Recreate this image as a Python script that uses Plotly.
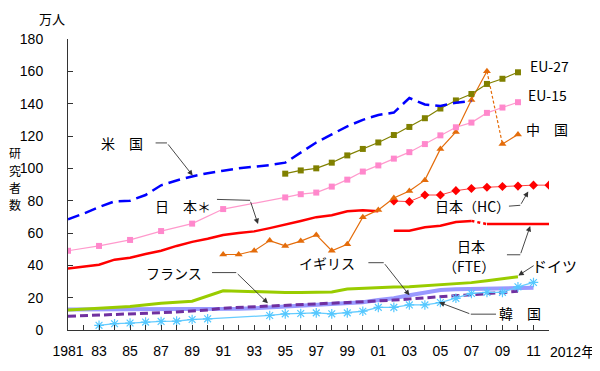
import plotly.graph_objects as go

# ---------------- data (万人) ----------------
us_years = list(range(1981, 2008))
us = [68.5, 72, 76, 79.6, 80, 83.5, 89.5, 92.5, 95, 97, 98.5, 100, 101, 102, 103.5,
      110, 116, 121, 126, 130, 133, 134.5, 143.5, 139.5, 138.6, 140.6, 141.6]

eu27_years = list(range(1995, 2011))
eu27 = [96.7, 98.7, 100, 103.5, 108, 112, 116, 120.6, 125.6, 131, 137, 142, 146, 152.2, 155.4, 159.4]

eu15_years = [1981, 1983, 1985, 1987, 1989, 1991] + list(range(1995, 2011))
eu15 = [49, 52, 55.7, 61.2, 65.8, 74.8, 82, 84, 85, 88.7, 93, 98, 101.8, 106, 110, 115,
        120.4, 125.4, 128.3, 134.3, 137.6, 140.9]

jp_star_years = list(range(1981, 2002))
jp_star = [38, 39.2, 40.4, 43.5, 44.7, 47, 49, 52, 54.5, 56.5, 58.8, 60, 61, 63, 65,
           67.4, 69.8, 71, 73.5, 74, 73.5]

jp_hc_years = list(range(2002, 2013))
jp_hc = [79.8, 79.4, 83.5, 83.5, 86.2, 87.5, 88.3, 88.8, 89, 89.6, 89.6]

jp_fte_years = list(range(2002, 2013))
jp_fte = [61.4, 61.4, 63.5, 64.5, 66.8, 67.5, 65.5, 65.5, 65.6, 65.6, 65.6]

cn_years = list(range(1991, 2011))
cn = [46.7, 46.7, 49, 55.3, 52, 55, 58.8, 49, 53, 69.8, 74.3, 81.7, 86, 92.7, 112,
      122.5, 142.3, 160, 115, 121]

de_years = [1981, 1983, 1985, 1987, 1989] + list(range(1991, 2011))
de = [12.4, 13.3, 14.5, 16.5, 17.8, 24.3, 24, 23.6, 23.3, 23.2, 23.2, 23.3, 23.5, 25.3,
      25.8, 26.5, 26.6, 26.8, 27.4, 28.2, 28.8, 29.3, 30.5, 31.7, 33]

fr_years = list(range(1981, 2011))
fr = [8.5, 8.8, 9.2, 9.6, 10.0, 10.3, 10.7, 11.2, 11.6, 12.3, 13.5, 14.0, 14.3, 14.6,
      15.2, 15.8, 16.1, 16.6, 17.0, 17.4, 17.9, 18.5, 19.2, 20.0, 20.8, 21.3, 21.8,
      22.5, 23.2, 23.9]

uk_years = list(range(1981, 2012))
uk = [12.7, 12.7, 12.7, 12.8, 12.8, 12.8, 12.9, 12.9, 13, 13, 13, 13.2, 13.5, 14, 14.5,
      15, 15.2, 15.6, 16.3, 17.2, 18.6, 19.7, 21.5, 23.3, 24.8, 25.2, 25.4, 25.5, 25.6,
      25.8, 26.2]

kr_years = [1983, 1984, 1985, 1986, 1987, 1988, 1989, 1990] + list(range(1994, 2012))
kr = [2.9, 3.9, 4.3, 4.9, 5.3, 5.5, 6.5, 6.9, 9.0, 10, 10.2, 10.6, 10, 10.6, 11.6, 14,
      14, 15.5, 15.5, 17, 19.6, 22.6, 23.3, 23.3, 26.7, 29.4]

x_tick_years = list(range(1981, 2013))
x_tick_text = ["1981" if y == 1981 else ("" if (y % 2 == 0 or y == 2012) else f"{y % 100:02d}")
               for y in x_tick_years]
y_ticks = list(range(0, 181, 20))

JP = "Noto Sans CJK JP"
LAT = "Liberation Sans, Arial"

fig = go.Figure()

def line(x, y, color, width, dash="solid", marker=None, mode="lines"):
    kw = dict(x=x, y=y, mode=mode, line=dict(color=color, width=width, dash=dash),
              showlegend=False, hoverinfo="skip")
    if marker:
        kw["marker"] = marker
    fig.add_trace(go.Scatter(**kw))

# lower lines
line(uk_years, uk, "#9999FF", 4)
line(fr_years, fr, "#7030A0", 3, dash="8px,4px")
line(de_years, de, "#99CC00", 3)
line(kr_years, kr, "#66CCFF", 1.3, mode="lines+markers",
     marker=dict(symbol="asterisk-open", size=8, color="#55C8FF",
                 line=dict(color="#55C8FF", width=1.2)))
# Japan
line(jp_star_years, jp_star, "#FF0000", 2.5)
line(jp_fte_years[:6], jp_fte[:6], "#FF0000", 2.5)
line(jp_fte_years[5:7], jp_fte[5:7], "#FF0000", 2.5, dash="dot")
line(jp_fte_years[6:], jp_fte[6:], "#FF0000", 2.5)
line(jp_hc_years, jp_hc, "#FF4040", 1, mode="lines+markers",
     marker=dict(symbol="diamond", size=7, color="#FF0000"))
# China
cn_marker = dict(symbol="triangle-up", size=7, color="#E46C0A")
line(cn_years[:18], cn[:18], "#E46C0A", 1.2, mode="lines+markers", marker=cn_marker)
line(cn_years[17:19], cn[17:19], "#E46C0A", 1.2, dash="3px,2px")
line(cn_years[18:], cn[18:], "#E46C0A", 1.2, mode="lines+markers", marker=cn_marker)
# EU
line(eu15_years, eu15, "#FF99CC", 1.2, mode="lines+markers",
     marker=dict(symbol="square", size=6, color="#FF88CC"))
line(eu27_years, eu27, "#808000", 1.2, mode="lines+markers",
     marker=dict(symbol="square", size=6, color="#808000"))
# US
line(us_years, us, "#0000FF", 2.5, dash="12px,6px")

# ---------------- layout ----------------
OFF = 8                        # page body margin
PL, PR, PT, PB = 63, 549, 39, 333   # plot area in page pixels
W, H = 600 - OFF, 371 - OFF
X0, X1, Y0, Y1 = 1981, 2012, 0, 180
pw, ph = PR - PL, PB - PT

def dx(px):
    return X0 + (px - PL) / pw * (X1 - X0)

def dy(py):
    return Y0 + (PB - py) / ph * (Y1 - Y0)

def fx(px):
    return (px - PL) / pw

def fy(py):
    return (PB - py) / ph

ann = []

def text(px, py, s, size=14, family=JP, xanchor="center"):
    ann.append(dict(x=fx(px), y=fy(py), xref="paper", yref="paper", text=s, showarrow=False,
                    font=dict(family=family, size=size, color="#000"),
                    xanchor=xanchor, yanchor="middle"))

def seg(p0, p1, head=False):
    ann.append(dict(x=dx(p1[0]), y=dy(p1[1]), ax=dx(p0[0]), ay=dy(p0[1]),
                    xref="x", yref="y", axref="x", ayref="y", text="",
                    showarrow=True, arrowhead=2 if head else 0, arrowsize=1.2,
                    arrowwidth=0.9, arrowcolor="#333", standoff=0, startstandoff=0))

text(118, 144, "米　国")
seg((150, 144), (163, 144)); seg((163, 144), (189, 177), True)

text(179, 208, "日　本＊")
seg((212, 201), (247, 202)); seg((247, 202), (255, 226), True)

text(170, 275, "フランス")
seg((207, 275), (233, 275)); seg((233, 275), (265, 306), True)

text(325, 265, "イギリス")
seg((365, 265), (382, 265)); seg((382, 265), (408, 298), True)

text(520, 316, "韓　国")
seg((497, 317), (470, 317)); seg((470, 317), (438, 305), True)

text(472, 208, "日本（HC）")
seg((507, 208), (520, 207)); seg((520, 207), (528, 193), True)

text(470, 248, "日本")
text(468, 268, "（FTE）")
seg((505, 257), (520, 257)); seg((520, 257), (530, 228), True)

text(555, 268, "ドイツ", size=15)
seg((535, 267), (518, 278), True)

text(550, 66, "EU-27")
text(547, 96, "EU-15")
text(547, 130, "中　国")

# axis titles
text(47, 18, "万人", size=13)
for i, ch in enumerate("研究者数"):
    text(9, 154 + 17.5 * i, ch, size=12)
text(548, 354, "2012<span style='font-family:Noto Sans CJK JP'>年</span>", family=LAT, xanchor="left")

fig.update_layout(
    width=W, height=H,
    margin=dict(l=PL - OFF, r=W - (PR - OFF), t=PT - OFF, b=H - (PB - OFF), pad=0),
    paper_bgcolor="white", plot_bgcolor="white",
    annotations=ann,
    xaxis=dict(range=[X0, X1], tickmode="array", tickvals=x_tick_years, ticktext=x_tick_text,
               ticks="inside", ticklen=5, tickcolor="#333", showgrid=False, zeroline=False,
               showline=True, linecolor="#333", linewidth=1,
               tickfont=dict(family=LAT, size=14, color="#000"), ticklabelstandoff=8),
    yaxis=dict(range=[Y0, Y1], tickmode="array", tickvals=y_ticks,
               ticks="inside", ticklen=5, tickcolor="#333", showgrid=False, zeroline=False,
               showline=True, linecolor="#333", linewidth=1,
               tickfont=dict(family=LAT, size=14, color="#000"), ticklabelstandoff=21),
)

fig.write_html("out.html")
